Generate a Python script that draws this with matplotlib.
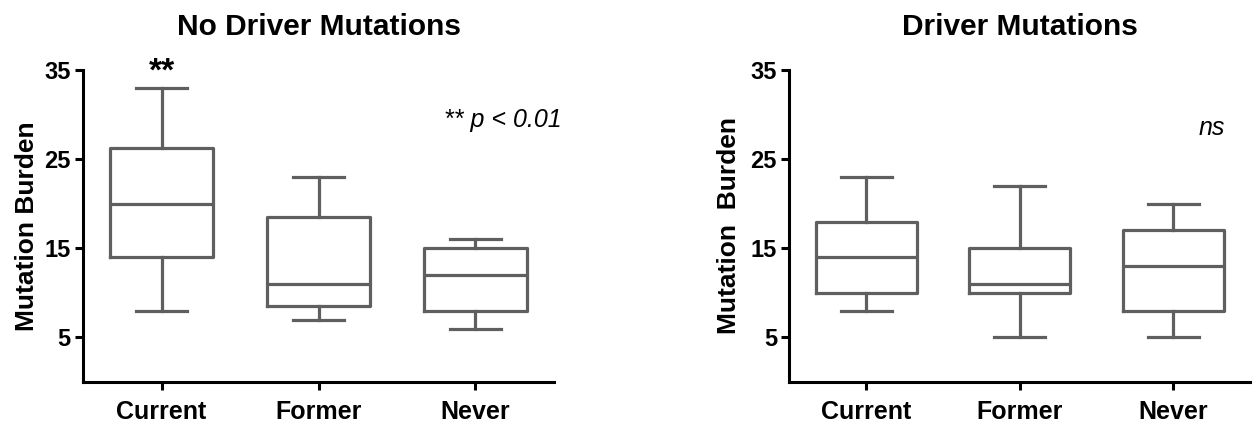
import matplotlib
matplotlib.use("Agg")
import matplotlib.pyplot as plt

plt.rcParams['font.family'] = ['Liberation Sans', 'DejaVu Sans']

categories = ["Current", "Former", "Never"]

# No Driver Mutations: whislo, q1, median, q3, whishi
nd_whislo = [8, 7, 6]
nd_q1 = [14, 8.5, 8]
nd_med = [20, 11, 12]
nd_q3 = [26.3, 18.5, 15]
nd_whishi = [33, 23, 16]

# Driver Mutations
d_whislo = [8, 5, 5]
d_q1 = [10, 10, 8]
d_med = [14, 11, 13]
d_q3 = [18, 15, 17]
d_whishi = [23, 22, 20]

yticks = [5, 15, 25, 35]

GRAY = "#5f5f5f"

fig = plt.figure(figsize=(12.59, 4.24), dpi=100)
ax1 = fig.add_axes([0.066, 0.099, 0.374, 0.736])
ax2 = fig.add_axes([0.627, 0.099, 0.366, 0.736])


def draw(ax, lo, q1, med, q3, hi, title):
    stats = []
    for i, c in enumerate(categories):
        stats.append(dict(label=c, whislo=lo[i], q1=q1[i], med=med[i], q3=q3[i], whishi=hi[i], fliers=[]))
    lp = dict(color=GRAY, linewidth=2.3)
    ax.bxp(stats, positions=range(len(categories)), widths=0.66, capwidths=0.33,
           showfliers=False, boxprops=lp, whiskerprops=lp, capprops=lp,
           medianprops=lp)
    ax.set_xlim(-0.5, 2.5)
    ax.set_ylim(0, 35)
    ax.set_yticks(yticks)
    ax.set_xticks(range(len(categories)))
    ax.set_xticklabels(categories)
    for s in ["top", "right"]:
        ax.spines[s].set_visible(False)
    for s in ["left", "bottom"]:
        ax.spines[s].set_linewidth(2.2)
        ax.spines[s].set_color("black")
    ax.tick_params(axis="both", direction="out", length=6, width=2.2)
    ax.tick_params(axis="x", pad=7, labelsize=18)
    ax.tick_params(axis="y", pad=3, labelsize=17)
    for lab in ax.get_xticklabels() + ax.get_yticklabels():
        lab.set_fontweight("bold")
    pos = ax.get_position()
    fig.text((pos.x0 + pos.x1) / 2, 1 - 35 / 424, title, ha="center", va="baseline",
             fontsize=21.5, fontweight="bold")


draw(ax1, nd_whislo, nd_q1, nd_med, nd_q3, nd_whishi, "No Driver Mutations")
draw(ax2, d_whislo, d_q1, d_med, d_q3, d_whishi, "Driver Mutations")

ax1.set_ylabel("Mutation Burden", fontsize=19, fontweight="bold", labelpad=4)
ax2.set_ylabel("Mutation  Burden", fontsize=19, fontweight="bold", labelpad=7)

ax1.text(0, 33.0, "**", ha="center", va="bottom", fontsize=24, fontweight="bold")
ax1.text(1.80, 28.6, "** p < 0.01", ha="left", va="baseline",
         fontsize=18, fontstyle="italic")
ax2.text(2.25, 27.7, "ns", ha="center", va="baseline", fontsize=18, fontstyle="italic")

fig.savefig("out.png", dpi=100)
